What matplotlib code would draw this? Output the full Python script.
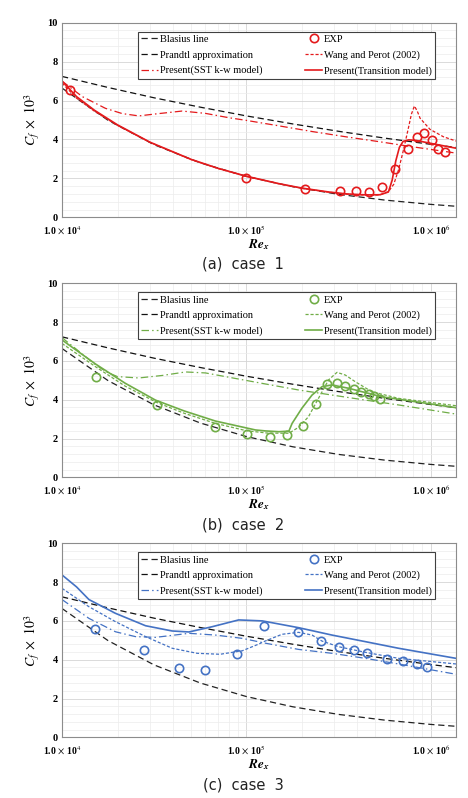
import matplotlib
matplotlib.use("Agg")
import matplotlib.pyplot as plt
from matplotlib.ticker import MultipleLocator, LogLocator, NullFormatter

plt.rcParams['mathtext.fontset'] = 'stix'

# ---------------- data ----------------
# reference lines (shared by all panels)
re_ref = [1.0e4, 1.78e4, 3.16e4, 5.62e4, 1.0e5, 1.78e5, 3.16e5, 5.62e5, 1.0e6, 1.37e6]
cf_blasius = [6.64, 4.98, 3.73, 2.80, 2.10, 1.575, 1.18, 0.886, 0.664, 0.567]
cf_prandtl = [7.24, 6.67, 6.14, 5.66, 5.21, 4.80, 4.42, 4.07, 3.75, 3.59]

# case 1
a_exp_re = [1.11e4, 1.0e5, 2.08e5, 3.23e5, 3.94e5, 4.6e5, 5.43e5, 6.43e5, 7.57e5, 8.4e5, 9.2e5, 1.01e6, 1.10e6, 1.19e6]
a_exp_cf = [6.54, 2.0, 1.47, 1.37, 1.34, 1.28, 1.56, 2.50, 3.49, 4.14, 4.35, 3.96, 3.49, 3.34]
a_tr_re = [1.0e4, 1.2e4, 1.5e4, 2.0e4, 3.0e4, 5.0e4, 7.0e4, 1.0e5, 1.5e5, 2.0e5, 2.8e5, 3.5e5, 4.5e5, 5.3e5,
           5.89e5, 6.17e5, 6.46e5, 6.76e5, 7.08e5, 7.59e5, 8.32e5, 1.0e6, 1.37e6]
a_tr_cf = [7.0, 6.2, 5.5, 4.75, 3.86, 2.98, 2.52, 2.11, 1.73, 1.50, 1.30, 1.20, 1.15, 1.16,
           1.30, 1.9, 2.9, 3.6, 3.9, 3.98, 3.95, 3.80, 3.55]
a_wp_re = [1.0e4, 1.2e4, 1.5e4, 2.0e4, 3.0e4, 5.0e4, 7.0e4, 1.0e5, 1.5e5, 2.0e5, 2.8e5, 3.5e5, 4.5e5, 5.3e5,
           5.89e5, 6.3e5, 6.68e5, 7.11e5, 7.59e5, 7.85e5, 8.15e5, 8.45e5, 8.75e5, 9.9e5, 1.17e6, 1.37e6]
a_wp_cf = [6.9, 6.12, 5.45, 4.72, 3.85, 2.97, 2.51, 2.10, 1.72, 1.49, 1.29, 1.19, 1.14, 1.15,
           1.32, 1.7, 2.43, 3.46, 4.66, 5.3, 5.72, 5.45, 5.09, 4.52, 4.14, 3.92]
a_sst_re = [1.0e4, 1.29e4, 1.72e4, 2.12e4, 2.61e4, 3.21e4, 4.48e4, 6.0e4, 8.0e4, 1.0e5, 1.5e5, 2.3e5, 3.5e5, 5.3e5, 8.0e5, 1.37e6]
a_sst_cf = [7.0, 6.20, 5.60, 5.33, 5.21, 5.31, 5.46, 5.34, 5.12, 4.98, 4.70, 4.40, 4.13, 3.88, 3.62, 3.30]

# case 2
b_exp_re = [1.52e4, 3.26e4, 6.79e4, 1.01e5, 1.35e5, 1.67e5, 2.04e5, 2.38e5, 2.73e5, 3.10e5, 3.44e5, 3.81e5, 4.18e5, 4.6e5, 4.95e5, 5.31e5]
b_exp_cf = [5.17, 3.72, 2.60, 2.21, 2.06, 2.17, 2.67, 3.77, 4.83, 4.86, 4.73, 4.54, 4.40, 4.28, 4.18, 4.04]
b_tr_re = [1.0e4, 1.52e4, 2.2e4, 3.21e4, 4.6e4, 6.79e4, 1.12e5, 1.27e5, 1.5e5, 1.7e5, 1.77e5, 2.0e5, 2.27e5, 2.57e5, 2.91e5, 3.58e5, 5.43e5, 8.2e5, 1.37e6]
b_tr_cf = [7.08, 5.84, 4.85, 3.98, 3.42, 2.90, 2.44, 2.39, 2.35, 2.38, 2.78, 3.56, 4.24, 4.67, 4.76, 4.59, 4.15, 3.90, 3.59]
b_wp_re = [1.0e4, 1.52e4, 2.2e4, 3.26e4, 4.6e4, 6.79e4, 1.0e5, 1.3e5, 1.7e5, 1.92e5, 2.17e5, 2.46e5, 2.79e5, 3.1e5, 3.44e5, 3.89e5, 4.79e5, 6.68e5, 1.37e6]
b_wp_cf = [6.9, 5.7, 4.7, 3.86, 3.30, 2.78, 2.40, 2.28, 2.27, 2.58, 3.12, 4.07, 5.02, 5.41, 5.27, 4.93, 4.41, 4.07, 3.69]
b_sst_re = [1.0e4, 1.52e4, 1.75e4, 2.0e4, 2.61e4, 3.5e4, 4.68e4, 6.0e4, 7.4e4, 1.27e5, 1.92e5, 2.91e5, 4.42e5, 6.68e5, 1.37e6]
b_sst_cf = [7.2, 5.8, 5.42, 5.19, 5.12, 5.25, 5.43, 5.38, 5.22, 4.81, 4.50, 4.24, 3.98, 3.73, 3.26]

# case 3
c_exp_re = [1.51e4, 2.78e4, 4.30e4, 5.94e4, 8.9e4, 1.24e5, 1.90e5, 2.55e5, 3.19e5, 3.81e5, 4.50e5, 5.82e5, 7.04e5, 8.4e5, 9.59e5]
c_exp_cf = [5.58, 4.50, 3.56, 3.47, 4.31, 5.74, 5.44, 4.98, 4.64, 4.50, 4.35, 4.02, 3.93, 3.78, 3.64]
c_tr_re = [1.0e4, 1.2e4, 1.4e4, 1.95e4, 2.84e4, 3.96e4, 4.88e4, 6.52e4, 9.08e4, 1.22e5, 1.92e5, 2.91e5, 4.42e5, 6.68e5, 1.01e6, 1.37e6]
c_tr_cf = [8.37, 7.75, 7.1, 6.39, 5.75, 5.48, 5.43, 5.70, 6.05, 6.0, 5.65, 5.27, 4.93, 4.59, 4.29, 4.07]
c_wp_re = [1.0e4, 1.4e4, 1.95e4, 2.84e4, 3.96e4, 5.4e4, 7.2e4, 9.5e4, 1.17e5, 1.27e5, 1.56e5, 1.92e5, 2.27e5, 2.57e5, 3.16e5, 4.42e5, 6.68e5, 1.37e6]
c_wp_cf = [7.68, 6.73, 5.96, 5.19, 4.59, 4.33, 4.28, 4.46, 4.81, 4.97, 5.31, 5.41, 5.27, 4.96, 4.67, 4.38, 4.07, 3.78]
c_sst_re = [1.0e4, 1.4e4, 1.95e4, 2.5e4, 3.21e4, 4.88e4, 6.79e4, 9.5e4, 1.27e5, 1.92e5, 2.91e5, 4.42e5, 6.68e5, 1.37e6]
c_sst_cf = [7.1, 6.13, 5.44, 5.19, 5.15, 5.36, 5.27, 5.10, 4.85, 4.53, 4.33, 4.07, 3.78, 3.25]

cases = [
    dict(color='#e41a1c', exp=(a_exp_re, a_exp_cf), tr=(a_tr_re, a_tr_cf), wp=(a_wp_re, a_wp_cf), sst=(a_sst_re, a_sst_cf), caption='(a)  case  1'),
    dict(color='#70ad47', exp=(b_exp_re, b_exp_cf), tr=(b_tr_re, b_tr_cf), wp=(b_wp_re, b_wp_cf), sst=(b_sst_re, b_sst_cf), caption='(b)  case  2'),
    dict(color='#4472c4', exp=(c_exp_re, c_exp_cf), tr=(c_tr_re, c_tr_cf), wp=(c_wp_re, c_wp_cf), sst=(c_sst_re, c_sst_cf), caption='(c)  case  3'),
]

xticks = [1e4, 1e5, 1e6]
xticklabels = [r'1.0 $\times$ 10$^{4}$', r'1.0 $\times$ 10$^{5}$', r'1.0 $\times$ 10$^{6}$']
yticks = [0, 2, 4, 6, 8, 10]

# ---------------- figure ----------------
W, H = 468, 798
fig = plt.figure(figsize=(W / 100, H / 100), dpi=100)
panels = [(22.7, 217.3, 264), (283.3, 477.3, 525), (543.3, 737.3, 785)]
left_px, right_px = 62, 456

serif = 'Liberation Serif'
for case, (top, bot, cap_y) in zip(cases, panels):
    ax = fig.add_axes([left_px / W, 1 - bot / H, (right_px - left_px) / W, (bot - top) / H])
    col = case['color']
    ax.set_xscale('log')
    ax.set_xlim(1e4, 1.37e6)
    ax.set_ylim(0, 10)

    l1, = ax.plot(re_ref, cf_blasius, color='#222222', lw=0.9, ls=(0, (5, 3)), label='Blasius line')
    l2, = ax.plot(re_ref, cf_prandtl, color='#111111', lw=0.9, ls=(0, (5, 3)), label='Prandtl approximation')
    l3, = ax.plot(*case['sst'], color=col, lw=0.9, ls=(0, (6, 2.5, 1.2, 2.5)), label='Present(SST k-w model)')
    l5, = ax.plot(*case['wp'], color=col, lw=0.9, ls=(0, (2.5, 1.5)), label='Wang and Perot (2002)')
    l6, = ax.plot(*case['tr'], color=col, lw=1.2, ls='-', label='Present(Transition model)')
    l4, = ax.plot(*case['exp'], ls='none', marker='o', ms=6, mfc='none', mec=col, mew=1.2, label='EXP')

    ax.set_xticks(xticks, labels=xticklabels)
    ax.xaxis.set_minor_locator(LogLocator(base=10, subs=range(2, 10), numticks=20))
    ax.xaxis.set_minor_formatter(NullFormatter())
    ax.set_yticks(yticks)
    ax.yaxis.set_minor_locator(MultipleLocator(0.4))
    ax.tick_params(which='both', length=0)
    ax.tick_params(axis='x', pad=5, labelsize=7)
    ax.tick_params(axis='y', pad=3, labelsize=7.5)
    for t in ax.get_xticklabels() + ax.get_yticklabels():
        t.set_fontfamily(serif)
        t.set_fontweight('bold')
    ax.grid(which='major', color='#d4d4d4', lw=0.6)
    ax.grid(which='minor', color='#ececec', lw=0.5)
    ax.set_axisbelow(True)
    for s in ax.spines.values():
        s.set_color('#8c8c8c')
        s.set_linewidth(0.8)

    ax.set_xlabel(r'$\mathbfit{Re}_{\mathbfit{x}}$', fontsize=9.5, labelpad=0)
    ax.set_ylabel(r'$C_f\ \times\ 10^3$', fontsize=10, labelpad=4)

    leg = ax.legend(handles=[l1, l2, l3, l4, l5, l6], ncol=2, loc='lower left',
                    bbox_to_anchor=(0.193, 0.711, 0.754, 0.257), mode='expand',
                    prop={'family': serif, 'size': 7.5}, frameon=True, fancybox=False,
                    edgecolor='#404040', framealpha=1, handlelength=1.6, handletextpad=0.2,
                    borderpad=0.3, labelspacing=0.6, borderaxespad=0, columnspacing=1.0)
    leg.get_frame().set_linewidth(0.8)

    fig.text(243 / W, 1 - cap_y / H, case['caption'], ha='center', va='center',
             fontsize=10.5, family='DejaVu Sans', color='#222222')

fig.savefig('out.png', dpi=100)
